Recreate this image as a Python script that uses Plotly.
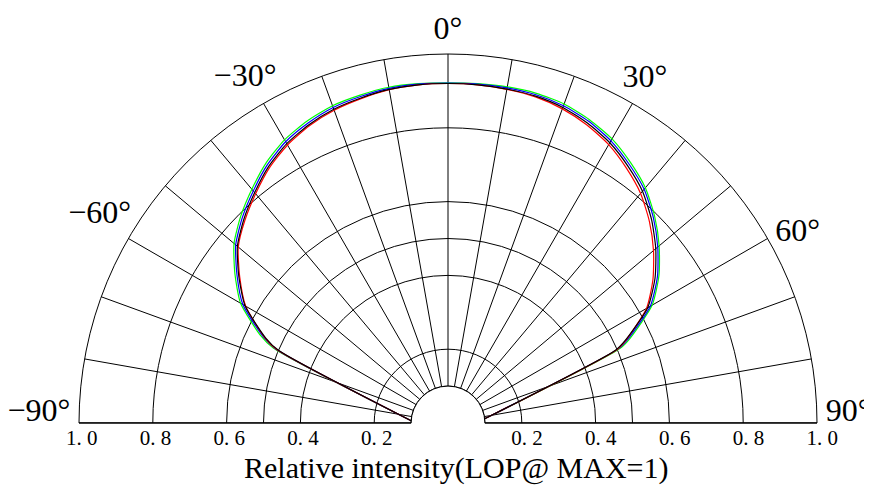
import plotly.graph_objects as go

# Angles (deg, 0 = up, positive = right)
theta = [-86.6, -66.8, -65, -60, -55, -50, -45, -40, -35, -30, -25, -20, -15, -10, -5,
         0, 5, 10, 15, 20, 25, 30, 35, 40, 45, 50, 55, 60, 65, 66.5, 83.5]

black = [0.100, 0.500, 0.545, 0.635, 0.692, 0.745, 0.782, 0.815, 0.848, 0.874, 0.892, 0.905, 0.912, 0.918, 0.920,
         0.920, 0.920, 0.919, 0.917, 0.910, 0.896, 0.877, 0.850, 0.820, 0.780, 0.735, 0.685, 0.625, 0.530, 0.495, 0.100]
red = [0.100, 0.505, 0.548, 0.633, 0.689, 0.742, 0.778, 0.811, 0.844, 0.870, 0.889, 0.902, 0.910, 0.917, 0.920,
       0.920, 0.920, 0.918, 0.915, 0.906, 0.891, 0.871, 0.843, 0.812, 0.772, 0.727, 0.678, 0.621, 0.533, 0.500, 0.100]
blue = [0.100, 0.507, 0.552, 0.642, 0.698, 0.751, 0.788, 0.821, 0.854, 0.880, 0.897, 0.910, 0.916, 0.921, 0.922,
        0.921, 0.922, 0.922, 0.921, 0.915, 0.902, 0.883, 0.856, 0.827, 0.787, 0.742, 0.693, 0.633, 0.538, 0.502, 0.100]
green = [0.100, 0.515, 0.560, 0.649, 0.705, 0.757, 0.794, 0.827, 0.860, 0.886, 0.903, 0.915, 0.920, 0.924, 0.923,
         0.922, 0.923, 0.925, 0.925, 0.920, 0.907, 0.889, 0.862, 0.832, 0.792, 0.747, 0.698, 0.639, 0.545, 0.510, 0.100]

# Grid spokes every 10 degrees
grid_angles = [-90, -80, -70, -60, -50, -40, -30, -20, -10, 0, 10, 20, 30, 40, 50, 60, 70, 80, 90]
# Angle labels (placement angles nudged like the reference layout)
label_angles = [-88, -57, -27, 0, 27.5, 60, 88]
label_names = ["−90°", "−60°", "−30°", "0°", "30°", "60°", "90°"]
# Radial rings and labels
ring_vals = [0.2, 0.4, 0.5, 0.6, 0.8, 1.0]
ring_labels = ["\u00a0\u00a00. 2", "\u00a0\u00a00. 4", "", "\u00a0\u00a00. 6", "\u00a0\u00a00. 8", "\u00a0\u00a01. 0"]
left_vals = [1.0, 0.8, 0.6, 0.4, 0.2]
left_labels = ["\u00a01. 0", "\u00a00. 8", "\u00a00. 6", "\u00a00. 4", "\u00a00. 2"]
baseline_r = [1.0, 1.0]
baseline_theta = [-90, 90]
hole_r = [0.1] * 19

SERIF = "Liberation Serif, Times New Roman, serif"

fig = go.Figure()
for vals, col in [(green, "#00FF00"), (blue, "#0000FF"), (red, "#FF0000"), (black, "#000000")]:
    fig.add_trace(go.Scatterpolar(r=vals, theta=theta, mode="lines",
                                  line=dict(color=col, width=1.2, shape="spline", smoothing=0.6),
                                  subplot="polar", showlegend=False, hoverinfo="skip"))

fig.add_trace(go.Scatterpolar(r=hole_r, theta=grid_angles, mode="lines",
                              line=dict(color="black", width=1, shape="spline"),
                              subplot="polar3", cliponaxis=False,
                              showlegend=False, hoverinfo="skip"))
fig.add_trace(go.Scatterpolar(r=baseline_r, theta=baseline_theta, mode="lines",
                              line=dict(color="black", width=1.2),
                              subplot="polar3", cliponaxis=False,
                              showlegend=False, hoverinfo="skip"))
# left-side radial labels live on a mirrored quarter subplot
fig.add_trace(go.Scatterpolar(r=[], theta=[], mode="lines", subplot="polar2",
                              showlegend=False, hoverinfo="skip"))

common = dict(domain=dict(x=[0, 1], y=[0, 1]), sector=[0, 180], hole=0.1)
hidden_ang = dict(showgrid=False, showline=False, showticklabels=False, ticks="")

fig.update_layout(
    width=872, height=488,
    margin=dict(l=71, r=63, t=46, b=73, autoexpand=False),
    paper_bgcolor="white",
    polar=dict(
        **common,
        bgcolor="white",
        radialaxis=dict(range=[0.1, 1], tickvals=ring_vals, ticktext=ring_labels,
                        showgrid=True, gridcolor="black", gridwidth=1,
                        showline=False, angle=0, side="clockwise", ticks="",
                        tickfont=dict(family=SERIF, size=21, color="black")),
        angularaxis=dict(rotation=90, direction="clockwise",
                         tickmode="array", tickvals=grid_angles,
                         showgrid=True, gridcolor="black", gridwidth=1,
                         showline=True, linecolor="black", linewidth=1,
                         showticklabels=False, ticks=""),
    ),
    polar3=dict(
        **common,
        bgcolor="rgba(0,0,0,0)",
        radialaxis=dict(range=[0.1, 1], showgrid=False, showline=False,
                        showticklabels=False, ticks=""),
        angularaxis=dict(rotation=90, direction="clockwise",
                         tickmode="array", tickvals=label_angles, ticktext=label_names,
                         showgrid=False, showline=False,
                         ticks="outside", ticklen=2, tickcolor="rgba(0,0,0,0)",
                         tickfont=dict(family=SERIF, size=32, color="black")),
    ),
    polar2=dict(
        domain=dict(x=[0, 0.5], y=[0, 1]), sector=[0, 90],
        bgcolor="rgba(0,0,0,0)",
        radialaxis=dict(range=[1.0, 0.0], tickvals=left_vals, ticktext=left_labels,
                        showgrid=False, showline=False, angle=0, side="clockwise",
                        ticks="", tickfont=dict(family=SERIF, size=21, color="black")),
        angularaxis=hidden_ang,
    ),
    annotations=[dict(text="Relative intensity(LOP@ MAX=1)", xref="paper", yref="paper",
                      x=0.512, y=-0.122, xanchor="center", yanchor="middle", showarrow=False,
                      font=dict(family=SERIF, size=30, color="black"))],
)

fig.write_html("out.html")
